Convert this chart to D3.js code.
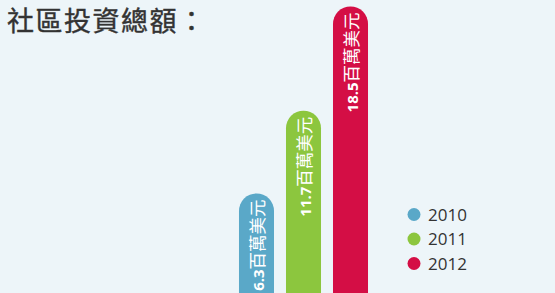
<!DOCTYPE html>
<html>
<head>
<meta charset="utf-8">
<script src="https://cdn.jsdelivr.net/npm/d3@7"></script>
<style>
  html, body { margin: 0; padding: 0; background: #edf5f9; }
  svg { display: block; }
</style>
</head>
<body>
<div class="container"></div>
<script>
(function(d3) {
  "use strict";

  var years = ["2010", "2011", "2012"];
  var values = [6.3, 11.7, 18.5];
  var amounts = ["6.3", "11.7", "18.5"];
  var unit = "百萬美元";
  var colors = ["#5aa8c8", "#8cc63e", "#d40e45"];
  var title = "社區投資總額：";

  var width = 555, height = 293;

  var svg = d3.select(".container").append("svg")
      .attr("width", width)
      .attr("height", height);

  svg.append("rect")
      .attr("width", width)
      .attr("height", height)
      .style("fill", "#edf5f9");

  svg.append("text")
      .attr("x", 7)
      .attr("y", 31)
      .style("font-family", "'Noto Sans CJK TC', sans-serif")
      .style("font-size", "27px")
      .style("font-weight", "normal")
      .style("letter-spacing", "1.5px")
      .style("fill", "#333")
      .style("stroke", "#333")
      .style("stroke-width", "0.4px")
      .text(title);

  var x = d3.scaleBand()
      .domain(years)
      .range([227, 380])
      .paddingInner(0.255)
      .paddingOuter(0.255);

  var y = d3.scaleLinear()
      .domain([0, 20])
      .range([290, 290 - 20 * 15.33]);

  var bw = x.bandwidth();
  var r = bw / 2;

  var bars = svg.append("g")
      .attr("class", "bars")
    .selectAll(".bar")
      .data(years)
    .enter().append("g")
      .attr("class", "bar");

  bars.append("path")
      .style("fill", function(d, i) { return colors[i]; })
      .attr("d", function(d, i) {
        var x0 = x(d), top = y(values[i]), bottom = height + 5;
        return "M" + x0 + "," + bottom +
          "V" + (top + r) +
          "A" + r + "," + r + " 0 0 1 " + (x0 + bw) + "," + (top + r) +
          "V" + bottom + "Z";
      });

  var label = bars.append("text")
      .attr("transform", function(d, i) {
        return "translate(" + (x(d) + r + 7.5) + "," + (y(values[i]) + 6) + ") rotate(-90)";
      })
      .attr("text-anchor", "end")
      .style("fill", "#fff");

  label.append("tspan")
      .style("font-family", "'Open Sans', sans-serif")
      .style("font-size", "15px")
      .style("font-weight", "bold")
      .text(function(d, i) { return amounts[i]; });

  label.append("tspan")
      .style("font-family", "'Noto Sans CJK TC', sans-serif")
      .style("font-size", "17.5px")
      .style("font-weight", "normal")
      .text(unit);

  var legend = svg.append("g")
      .attr("class", "legend")
    .selectAll(".item")
      .data(years)
    .enter().append("g")
      .attr("class", "item")
      .attr("transform", function(d, i) { return "translate(414," + (214.5 + i * 24.5) + ")"; });

  legend.append("circle")
      .attr("r", 6.5)
      .style("fill", function(d, i) { return colors[i]; });

  legend.append("text")
      .attr("x", 14)
      .attr("y", 6)
      .style("font-family", "'Open Sans', sans-serif")
      .style("font-size", "17px")
      .style("fill", "#333")
      .text(function(d) { return d; });

}(d3));
</script>
</body>
</html>
